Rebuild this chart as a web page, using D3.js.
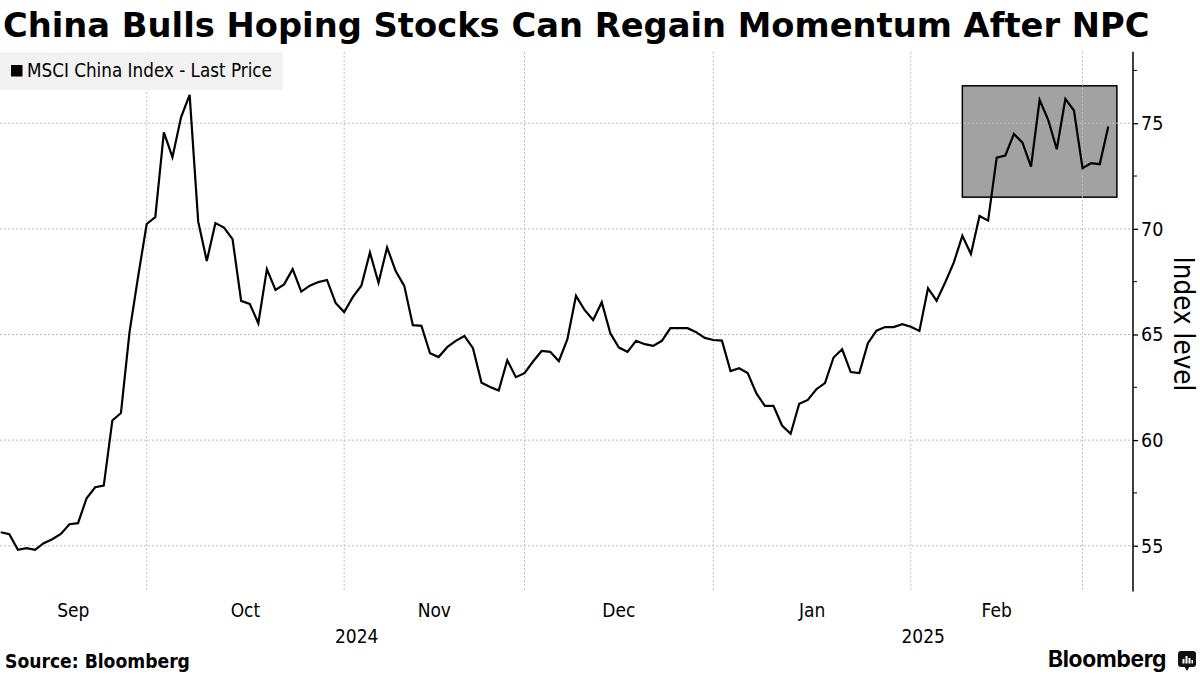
<!DOCTYPE html>
<html><head><meta charset="utf-8">
<script src="https://cdn.jsdelivr.net/npm/d3@7"></script>
<style>
body{margin:0;background:#fff}
svg{display:block}
text{font-family:"DejaVu Sans Condensed","DejaVu Sans",sans-serif;fill:#000}
</style>
</head><body>
<svg id="c" width="1200" height="675"></svg>
<script>
// ---- data ----
const title = "China Bulls Hoping Stocks Can Regain Momentum After NPC";
const seriesName = "MSCI China Index  -  Last Price";
const yAxisTitle = "Index level";
const sourceText = "Source: Bloomberg";
// daily closes, one per weekday, 6 Sep 2024 -> 6 Mar 2025
const values = [
 55.64,55.55,54.81,54.89,54.81,55.12,55.31,55.56,56.02,56.07,
 57.25,57.77,57.85,60.93,61.28,65.11,67.74,70.23,70.55,74.57,
 73.39,75.28,76.34,70.34,68.48,70.27,70.06,69.51,66.59,66.45,
 65.53,68.09,67.11,67.37,68.09,67.03,67.31,67.48,67.58,66.49,
 66.06,66.77,67.31,68.88,67.45,69.12,68.00,67.30,65.44,65.41,
 64.11,63.93,64.40,64.70,64.93,64.35,62.72,62.51,62.35,63.78,
 62.98,63.17,63.72,64.22,64.18,63.74,64.78,66.83,66.16,65.69,
 66.53,65.06,64.38,64.18,64.70,64.54,64.46,64.70,65.30,65.30,
 65.30,65.11,64.84,64.74,64.71,63.27,63.40,63.17,62.22,61.62,
 61.62,60.69,60.30,61.72,61.90,62.41,62.70,63.91,64.30,63.22,
 63.17,64.59,65.18,65.35,65.35,65.49,65.37,65.17,67.19,66.60,
 67.46,68.40,69.67,68.81,70.61,70.39,73.37,73.47,74.49,74.08,
 72.95,76.10,75.16,73.77,76.15,75.60,72.87,73.11,73.06,74.84
];
const monthLabels = ["Sep","Oct","Nov","Dec","Jan","Feb"];
const monthStartIndex = [17,40,61,83,106,126]; // first weekday of Oct, Nov, Dec, Jan, Feb, Mar
const yearLabels = ["2024","2025"];
const yearStartIndex = [83];
const yTicks = [55,60,65,70,75];
const yMinorTicks = [57.5,62.5,67.5,72.5,77.5];
const highlightIndex = [112,130];
const highlightRange = [71.5,76.77];

// ---- layout ----
const plotL = 0, plotR = 1133, plotT = 51.8, plotB = 591.6;
const svg = d3.select("#c");
const x = d3.scaleLinear().domain([0, values.length-1]).range([0.74, 1108.3]);
const y = d3.scaleLinear().domain([52.83, 78.38]).range([plotB, plotT]);

function fit(sel, w){
  const cur = sel.node().getComputedTextLength();
  const fs = parseFloat(sel.attr("font-size"));
  sel.attr("font-size", fs*w/cur);
}

// title
const t = svg.append("text").attr("x",3).attr("y",36.7).attr("font-size",34)
  .attr("font-weight","bold").style("font-family",'"DejaVu Sans",sans-serif').text(title);
fit(t, 1147);

// highlight box (under gridlines)
svg.append("rect")
  .attr("x", x(highlightIndex[0])).attr("y", y(highlightRange[1]))
  .attr("width", x(highlightIndex[1]) - x(highlightIndex[0]))
  .attr("height", y(highlightRange[0]) - y(highlightRange[1]))
  .attr("fill","#a2a2a2").attr("stroke","#000").attr("stroke-width",1.5);

// gridlines
const grid = svg.append("g").attr("stroke","#bdbdbd").attr("stroke-width",1).attr("stroke-dasharray","2,2");
grid.selectAll("line.h").data(yTicks).join("line")
  .attr("x1",plotL).attr("x2",plotR).attr("y1",d=>y(d)).attr("y2",d=>y(d));
grid.selectAll("line.v").data(monthStartIndex).join("line")
  .attr("x1",d=>x(d)).attr("x2",d=>x(d)).attr("y1",plotT).attr("y2",plotB);

// legend
svg.append("rect").attr("x",0).attr("y",52.5).attr("width",282.7).attr("height",37.5).attr("fill","#f2f2f2");
svg.append("rect").attr("x",11).attr("y",65).attr("width",11.5).attr("height",11.5).attr("fill","#000");
const lt = svg.append("text").attr("x",27).attr("y",77.2).attr("font-size",17).text(seriesName);
fit(lt, 245);

// line
svg.append("path").datum(values)
  .attr("fill","none").attr("stroke","#000").attr("stroke-width",2.2).attr("stroke-linejoin","miter")
  .attr("d", d3.line().x((d,i)=>x(i)).y(d=>y(d)));

// y axis (right)
const yAxis = d3.axisRight(y).tickValues(yTicks).tickSize(5).tickPadding(3).tickFormat(d3.format("d"));
const ga = svg.append("g").attr("transform",`translate(${plotR},0)`).call(yAxis);
ga.attr("font-family",null).attr("font-size",null);
ga.select(".domain").attr("d",`M0,${plotT}V${plotB}`).attr("stroke","#000").attr("stroke-width",1.5);
ga.selectAll(".tick line").attr("stroke","#000").attr("stroke-width",1.3);
ga.selectAll(".tick text").attr("font-size",19.5);
svg.append("g").selectAll("line").data(yMinorTicks.filter(v=>y(v)>=plotT)).join("line")
  .attr("x1",plotR).attr("x2",plotR+4).attr("y1",d=>y(d)).attr("y2",d=>y(d))
  .attr("stroke","#000").attr("stroke-width",1);

const yt = svg.append("text").attr("transform",`translate(1174,324) rotate(90)`)
  .attr("text-anchor","middle").attr("font-size",22).text(yAxisTitle);
fit(yt, 135);

// x labels
const bounds = [plotL, ...monthStartIndex.map(i=>x(i))];
svg.append("g").selectAll("text").data(monthLabels).join("text")
  .attr("x",(d,i)=>(bounds[i]+bounds[i+1])/2).attr("y",616.7)
  .attr("text-anchor","middle").attr("font-size",19).text(d=>d);
const yb = [plotL, ...yearStartIndex.map(i=>x(i)), plotR];
svg.append("g").selectAll("text").data(yearLabels).join("text")
  .attr("x",(d,i)=>(yb[i]+yb[i+1])/2).attr("y",643)
  .attr("text-anchor","middle").attr("font-size",19).text(d=>d);

// footer
const st = svg.append("text").attr("x",5).attr("y",668).attr("font-size",17).attr("font-weight","bold").text(sourceText);
fit(st, 185);
const bt = svg.append("text").attr("x",1048).attr("y",666.7).attr("font-size",21).attr("font-weight","bold")
  .style("font-family",'"Inter","DejaVu Sans",sans-serif').style("letter-spacing","-0.3px").text("Bloomberg");
fit(bt, 118);
const ic = svg.append("g").attr("transform","translate(1178,651)");
ic.append("rect").attr("width",18).attr("height",16).attr("rx",3).attr("fill","#111");
ic.append("path").attr("d","M6,15 L9,20 L12,15 Z").attr("fill","#111");
[[4.5,8,2],[7.5,5,2],[10.5,7,2],[13.5,9,1.5]].forEach(b=>{
  ic.append("rect").attr("x",b[0]).attr("y",b[1]).attr("width",b[2]).attr("height",12.5-b[1]).attr("fill","#fff");
});
</script>
</body></html>
